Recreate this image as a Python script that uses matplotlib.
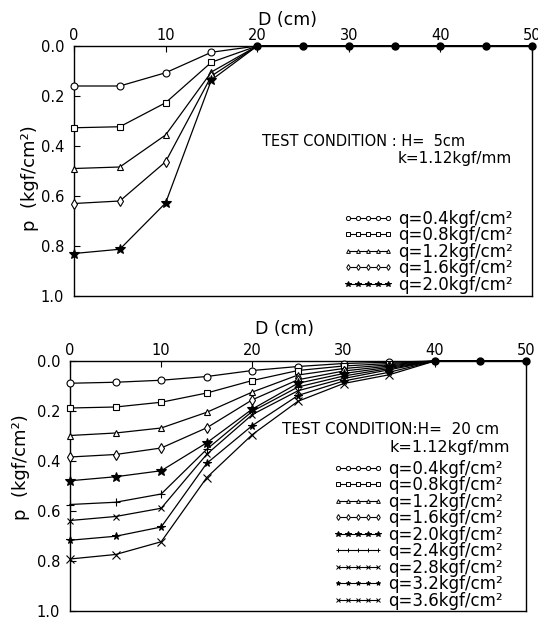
import numpy as np
import matplotlib
matplotlib.use('Agg')
import matplotlib.pyplot as plt
from matplotlib.lines import Line2D

plt.rcParams['font.family'] = ['DejaVu Sans']

d = [0, 5, 10, 15, 20, 25, 30, 35, 40, 45, 50]

# H = 5 cm
q_top = ['0.4', '0.8', '1.2', '1.6', '2.0']
p_top_04 = [0.160, 0.160, 0.107, 0.025, 0, 0, 0, 0, 0, 0, 0]
p_top_08 = [0.327, 0.323, 0.227, 0.065, 0, 0, 0, 0, 0, 0, 0]
p_top_12 = [0.490, 0.484, 0.356, 0.104, 0, 0, 0, 0, 0, 0, 0]
p_top_16 = [0.630, 0.620, 0.463, 0.120, 0, 0, 0, 0, 0, 0, 0]
p_top_20 = [0.830, 0.813, 0.628, 0.136, 0, 0, 0, 0, 0, 0, 0]

# H = 20 cm
q_bot = ['0.4', '0.8', '1.2', '1.6', '2.0', '2.4', '2.8', '3.2', '3.6']
p_bot_04 = [0.089, 0.085, 0.077, 0.062, 0.038, 0.022, 0.010, 0.005, 0, 0, 0]
p_bot_08 = [0.188, 0.184, 0.165, 0.128, 0.078, 0.038, 0.020, 0.010, 0, 0, 0]
p_bot_12 = [0.298, 0.288, 0.268, 0.205, 0.124, 0.056, 0.030, 0.015, 0, 0, 0]
p_bot_16 = [0.384, 0.374, 0.348, 0.267, 0.155, 0.075, 0.040, 0.020, 0, 0, 0]
p_bot_20 = [0.479, 0.463, 0.439, 0.327, 0.192, 0.089, 0.050, 0.025, 0, 0, 0]
p_bot_24 = [0.574, 0.565, 0.532, 0.353, 0.201, 0.104, 0.060, 0.030, 0, 0, 0]
p_bot_28 = [0.638, 0.622, 0.589, 0.373, 0.214, 0.119, 0.070, 0.035, 0, 0, 0]
p_bot_32 = [0.717, 0.701, 0.664, 0.409, 0.258, 0.138, 0.080, 0.045, 0, 0, 0]
p_bot_36 = [0.792, 0.774, 0.723, 0.466, 0.294, 0.161, 0.090, 0.055, 0, 0, 0]

top_series = [p_top_04, p_top_08, p_top_12, p_top_16, p_top_20]
bot_series = [p_bot_04, p_bot_08, p_bot_12, p_bot_16, p_bot_20,
              p_bot_24, p_bot_28, p_bot_32, p_bot_36]

# marker, size, filled
styles = [('o', 5, False), ('s', 4.5, False), ('^', 4.5, False), ('d', 5, False),
          ('*', 7, True), ('+', 6, False), ('x', 4.5, False), ('*', 5.5, True),
          ('x', 5.5, False)]

fig = plt.figure(figsize=(5.38, 6.17), dpi=100)
ax1 = fig.add_axes([74/538, 1 - 296/617, 458/538, 250/617])
ax2 = fig.add_axes([70/538, 1 - 611/617, 456/538, 250/617])


def draw(ax, series, qs, cond, cond_xy, cond_fs, k_xy, k_fs, leg_anchor,
         ylab_xy, xlab_xy):
    series = np.array(series)
    # positions where every curve has merged into one
    merged = np.all(series == series[0], axis=0)
    keep = [i for i in range(len(d)) if not merged[i] or i == 0]
    handles = []
    for vals, q, (m, ms, filled) in zip(series, qs, styles):
        ax.plot(d, vals, color='black', lw=0.9, marker=m, ms=ms,
                mfc='black' if filled else 'white', mec='black', mew=0.8,
                markevery=keep, zorder=3, clip_on=False)
        handles.append(Line2D([], [], color='black', lw=0.8, marker=m,
                              ms=ms * 0.6, mfc='black' if filled else 'white',
                              mec='black', mew=0.7,
                              label='q=%skgf/cm²' % q))
    dm = [x for x, f in zip(d, merged) if f]
    pm = [v for v, f in zip(series[0], merged) if f]
    ax.plot(dm, pm, 'o', color='black', ms=5, zorder=4, clip_on=False)

    ax.set_xlim(0, 50)
    ax.set_ylim(1.0, 0.0)
    ax.set_xticks([0, 10, 20, 30, 40, 50])
    ax.set_yticks([0.0, 0.2, 0.4, 0.6, 0.8, 1.0])
    ax.set_yticklabels(['0.0', '0.2', '0.4', '0.6', '0.8', '1.0'])
    ax.xaxis.tick_top()
    ax.xaxis.set_label_position('top')
    ax.tick_params(direction='in', length=4, width=0.8, labelsize=10.5, pad=2,
                   color='black')
    ax.tick_params(axis='y', pad=7)
    ax.set_xlabel('D (cm)', fontsize=12.5)
    ax.xaxis.set_label_coords(*xlab_xy)
    ax.set_ylabel('p  (kgf/cm²)', fontsize=13)
    ax.yaxis.set_label_coords(*ylab_xy)
    for s in ax.spines.values():
        s.set_linewidth(1.0)

    ax.text(cond_xy[0], cond_xy[1], cond, transform=ax.transAxes,
            fontsize=cond_fs, ha='left', va='center')
    ax.text(k_xy[0], k_xy[1], 'k=1.12kgf/mm', transform=ax.transAxes,
            fontsize=k_fs, ha='right', va='center')
    ax.legend(handles=handles, loc='upper right', bbox_to_anchor=leg_anchor,
              frameon=False, fontsize=12, handlelength=3.0, numpoints=5,
              handletextpad=0.3, labelspacing=-0.09, borderpad=0,
              borderaxespad=0)


draw(ax1, top_series, q_top, 'TEST CONDITION : H=  5cm', (0.41, 0.62), 10.5,
     (0.955, 0.55), 11, (0.958, 0.345), (-0.077, 0.47), (0.467, 1.085))
draw(ax2, bot_series, q_bot, 'TEST CONDITION:H=  20 cm', (0.465, 0.725), 11,
     (0.965, 0.655), 11.5, (0.95, 0.605), (-0.087, 0.575), (0.47, 1.11))

plt.savefig('out.png', dpi=100)
